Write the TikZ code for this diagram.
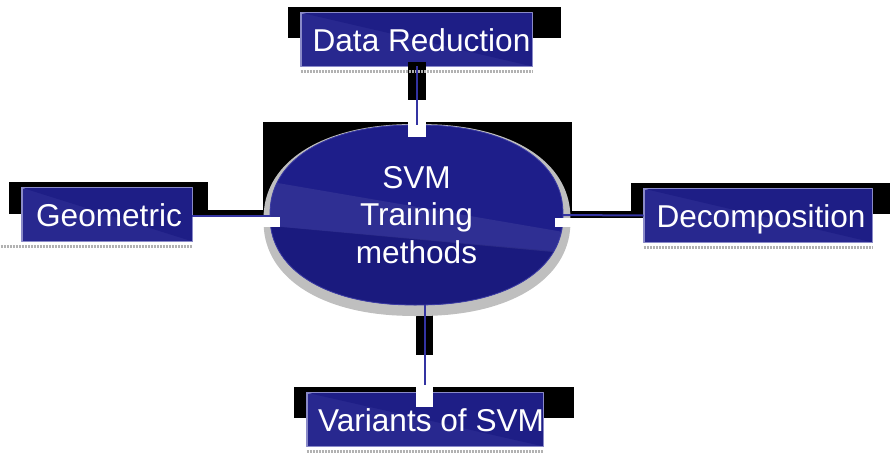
\documentclass[tikz,border=0pt]{standalone}
\usepackage{fontspec}
\setmainfont{Liberation Sans}
\usetikzlibrary{shapes.geometric}

\definecolor{boxblue}{HTML}{28288F}
\definecolor{boxdark}{HTML}{1E1E86}
\definecolor{boxedge}{HTML}{8A8AC8}
\definecolor{ovalblue}{HTML}{1E1E8A}
\definecolor{ovallow}{HTML}{1A1A7E}
\definecolor{ovaledge}{HTML}{3C3CA4}
\definecolor{linkblue}{HTML}{3434A2}

% rounded oval: centre x, centre y, half width, half height
\newcommand{\hubpath}[4]{plot[domain=0.5:360.5,samples=145,variable=\t]
	({#1+#3*sign(cos(\t))*pow(abs(cos(\t)),0.9)},{#2+#4*sign(sin(\t))*pow(abs(sin(\t)),0.9)}) -- cycle}

\begin{document}
\begin{tikzpicture}[line cap=round,line join=round,x=1pt,y=-1pt,
	method/.style={draw=boxedge,line width=0.8pt,fill=boxblue,text=white,inner sep=0pt,
		minimum height=53pt,text height=23pt,text depth=0pt,font=\fontsize{31.6}{37.5}\selectfont},
	hub/.style={ellipse,text=white,inner sep=0pt,
		minimum width=293pt,minimum height=180pt,align=center,font=\fontsize{31.6}{37.5}\selectfont},
	link/.style={draw=linkblue,line width=2pt,line cap=butt},
	glitch/.style={fill=black},
	gap/.style={fill=white},
	reflect/.style={draw=gray!60,line width=3pt,line cap=butt,dash pattern=on 2pt off 1pt}]
	\useasboundingbox (0,0) rectangle (890,453);
	% black patches behind boxes
	\fill[glitch] (288,7) rectangle (561,38);
	\fill[glitch] (9,182) rectangle (208,214);
	\fill[glitch] (631,183) rectangle (890,214);
	\fill[glitch] (294,387) rectangle (574,418);
	\fill[glitch] (263,122) rectangle (572,212);
	% connector patches
	\fill[glitch] (182,210) rectangle (280,217);
	\fill[glitch] (555,211) rectangle (653,218);
	\fill[glitch] (416,303) rectangle (433,355);
	% glow round the hub
	\filldraw[gray!50,line width=14pt] \hubpath{417}{220}{146.5}{89};
	% hub
	\fill[ovalblue] \hubpath{416.5}{215}{146.5}{90};
	\begin{scope}
		\clip \hubpath{416.5}{215}{146.5}{90};
		\fill[ovallow] (260,225) -- (575,253) -- (575,320) -- (260,320) -- cycle;
		\fill[white,opacity=0.08] (260,180) -- (575,234) -- (575,254) -- (260,225) -- cycle;
	\end{scope}
	\draw[ovaledge,line width=0.8pt] \hubpath{416.5}{215}{146.5}{90};
	\node[hub] (svm) at (416.5,215) {SVM\\Training\\methods};
	% white patches over the hub
	\fill[gap] (408,100) rectangle (426,137);
	\fill[gap] (182,217) rectangle (280,227);
	\fill[gap] (555,218) rectangle (653,227);
	% methods
	\node[method,minimum width=231pt] (data) at (416.5,39.5) {};
	\node[method,minimum width=170pt] (geo) at (107,214.5) {};
	\node[method,minimum width=228pt] (dec) at (758,215.5) {};
	\node[method,minimum width=236pt] (var) at (425,419.5) {};
	\foreach \n in {data,geo,dec,var}
		\fill[boxdark] (\n.north west) -- (\n.north east) -- (\n.south east) -- cycle;
	\foreach \n in {data,geo,dec,var}
		\draw[boxedge,line width=0.8pt] (\n.north west) rectangle (\n.south east);
	\node[method,fill=none,draw=none,xshift=5pt] at (data) {Data Reduction};
	\node[method,fill=none,draw=none,xshift=2pt] at (geo) {Geometric};
	\node[method,fill=none,draw=none,xshift=3pt] at (dec) {Decomposition};
	\node[method,fill=none,draw=none,anchor=east] at ([xshift=1pt]var.east) {Variants of SVM};
	\fill[glitch] (408,62) rectangle (426,100);
	\fill[gap] (416,355) rectangle (433,407);
	% reflections
	\draw[reflect] ([yshift=-5pt]data.south west) -- ([yshift=-5pt]data.south east);
	\draw[reflect] ([xshift=-21pt,yshift=-5pt]geo.south west) -- ([yshift=-5pt]geo.south east);
	\draw[reflect] ([yshift=-5pt]dec.south west) -- ([yshift=-5pt]dec.south east);
	\draw[reflect] ([yshift=-5pt]var.south west) -- ([yshift=-5pt]var.south east);
	% connectors
	\draw[link] (data.south) -- (data.south |- svm.north);
	\draw[link] ([yshift=-1.5pt]geo.east) -- ([yshift=-1.5pt]geo.east -| svm.west);
	\draw[link] (svm.east) -- (dec.west);
	\draw[link] ([yshift=8pt]var.north) -- (var.north |- svm.south);
\end{tikzpicture}
\end{document}
